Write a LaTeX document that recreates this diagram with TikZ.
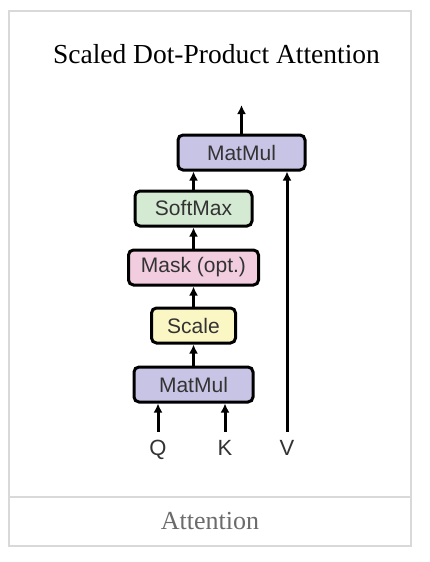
\documentclass[tikz,border=0pt]{standalone}
\usepackage{fontspec}
\setmainfont{Liberation Serif}
\newfontfamily\boxfont{Liberation Sans}
\usetikzlibrary{shapes,arrows.meta,positioning}
\definecolor{mulcol}{HTML}{C8C4E6}
\definecolor{softcol}{HTML}{D4EAD3}
\definecolor{maskcol}{HTML}{F2CDDF}
\definecolor{scalecol}{HTML}{FBF7C4}
\definecolor{framecol}{HTML}{D9D9D9}
\definecolor{labelcol}{HTML}{333333}
\tikzset{block/.style={rectangle, draw, line width=3pt, rounded corners=5pt,
    minimum height=35pt, text=labelcol, font=\boxfont\fontsize{21}{25}\selectfont}}
\tikzset{input/.style={text=labelcol, font=\boxfont\fontsize{22}{26}\selectfont,
    inner sep=0pt, text height=16pt, text depth=0pt, anchor=base}}
\tikzset{arr/.style={line width=3pt, -{Latex[length=9pt,width=9pt]}}}

\begin{document}
\begin{tikzpicture}[x=1pt, y=-1pt]
	\useasboundingbox (0,0) rectangle (430,562);
	% frame round the figure
	\draw[framecol, line width=2pt] (9,11) rectangle (411,546);
	\draw[framecol, line width=2pt] (9,497) -- (411,497);
	\node (title) at (216.5,54) {\fontsize{27.5}{32}\selectfont Scaled Dot-Product Attention};
	\node[text=black!58] (caption) at (210,521) {\fontsize{26}{30}\selectfont Attention};

	\node [block, fill=mulcol, minimum width=119pt] (mmb) at (193.5,384.5) {MatMul};
	\node [block, fill=scalecol, minimum width=84pt, above of=mmb, node distance=59pt] (scale) {Scale};
	\node [block, fill=maskcol, minimum width=130pt, above of=scale, node distance=58pt] (mask) {Mask (opt.)};
	\node [block, fill=softcol, minimum width=117pt, above of=mask, node distance=59pt] (soft) {SoftMax};
	\node [block, fill=mulcol, minimum width=127pt] (mmt) at (241.5,152.5) {MatMul};
	\coordinate (out) at (241.5,105);

	\node [input] (q) at (158,455) {Q};
	\node [input] (k) at (225,455) {K};
	\node [input] (v) at (287,455) {V};

        \draw[arr] ([yshift=7pt]q.north) -- (q |- mmb.south);
        \draw[arr] ([yshift=7pt]k.north) -- (k |- mmb.south);
        \draw[arr] ([yshift=7pt]v.north) -- (v |- mmt.south);
        \draw[arr] (mmb) -- (scale);
        \draw[arr] (scale) -- (mask);
        \draw[arr] (mask) -- (soft);
        \draw[arr] (soft.north) -- (soft.north |- mmt.south);
        \draw[arr] (mmt) -- (out);
\end{tikzpicture}
\end{document}
